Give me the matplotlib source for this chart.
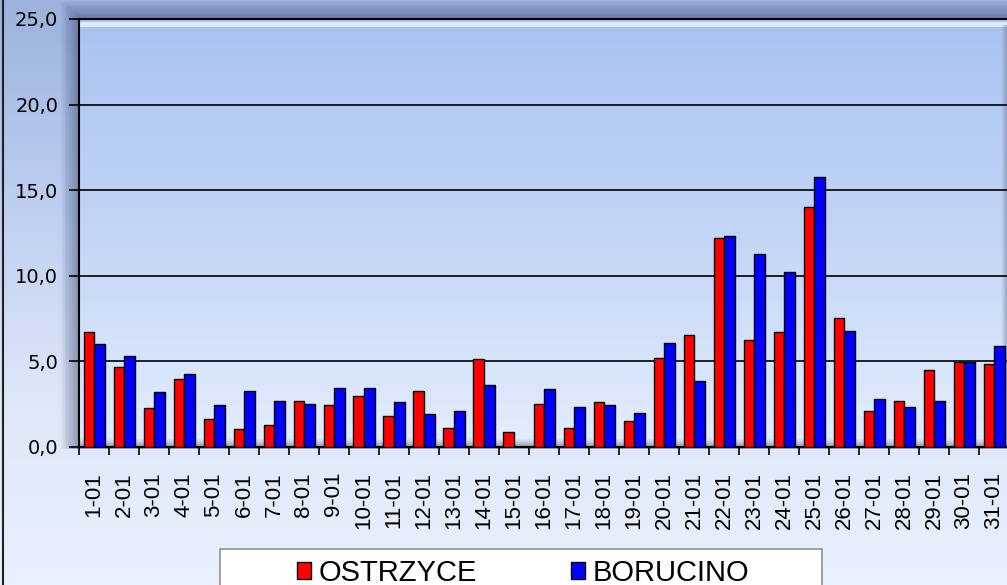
import numpy as np
import matplotlib
matplotlib.use("Agg")
import matplotlib.pyplot as plt
from matplotlib.patches import Rectangle
from matplotlib.colors import LinearSegmentedColormap
from matplotlib.ticker import FuncFormatter, FixedLocator

# daily values, January
days = [f"{d}-01" for d in range(1, 32)]
ostrzyce = [6.7, 4.7, 2.3, 4.0, 1.65, 1.05, 1.3, 2.7, 2.45, 2.95, 1.8, 3.3, 1.1, 5.15, 0.85, 2.5,
            1.1, 2.6, 1.5, 5.2, 6.55, 12.2, 6.25, 6.7, 14.0, 7.55, 2.1, 2.7, 4.5, 4.95, 4.85]
borucino = [6.0, 5.3, 3.2, 4.25, 2.45, 3.3, 2.7, 2.5, 3.45, 3.45, 2.6, 1.9, 2.1, 3.65, 0.0, 3.4,
            2.35, 2.45, 2.0, 6.1, 3.85, 12.3, 11.25, 10.2, 15.8, 6.8, 2.8, 2.35, 2.7, 4.95, 5.9]
series_names = ["OSTRZYCE", "BORUCINO"]
series_colors = ["#ff0000", "#0000ff"]
y_ticks = [0, 5, 10, 15, 20, 25]

plt.rcParams["font.family"] = ["Liberation Sans", "DejaVu Sans"]
plt.rcParams["font.size"] = 15

W, H = 1007, 585
fig = plt.figure(figsize=(W / 100, H / 100), dpi=100)

# figure background gradient
bg = fig.add_axes([0, 0, 1, 1], zorder=-10)
bg_cmap = LinearSegmentedColormap.from_list("bg", ["#9cb2dc", "#bccdf0", "#dbe6f8", "#eaf1fd"])
bg.imshow(np.linspace(0, 1, 256).reshape(-1, 1), cmap=bg_cmap, aspect="auto",
          extent=[0, 1, 0, 1], origin="upper")
bg.set_xlim(0, 1)
bg.set_ylim(0, 1)
bg.axis("off")
# outer border at left edge
bg.plot([2.5 / W, 2.5 / W], [0, 1], color="#202020", lw=1.5)

# plot area position (in pixels)
x0, x1 = 79, 1009
y_top, y_bot = 19, 447
ax_rect = [x0 / W, 1 - y_bot / H, (x1 - x0) / W, (y_bot - y_top) / H]

# soft shadow around plot area
for i in range(10):
    pad = (10 - i) * 1.8
    bg.add_patch(Rectangle(((x0 - pad) / W, (H - y_bot - 2) / H), (x1 - x0 + pad) / W,
                           (y_bot - y_top + pad + 2) / H, facecolor="#2a3a60",
                           edgecolor="none", alpha=0.05, zorder=1))

ax = fig.add_axes(ax_rect)
ax.patch.set_alpha(0)
area_cmap = LinearSegmentedColormap.from_list("area", ["#a8c3f1", "#c3d5f6", "#e3eefc"])
ax.imshow(np.linspace(0, 1, 256).reshape(-1, 1), cmap=area_cmap, aspect="auto",
          extent=[-0.5, len(days) - 0.5, 0, 25], origin="upper", zorder=0)
# light bevel under the top edge
ax.axhspan(24.55, 24.85, color="#d8ecff", zorder=0.5, lw=0)
# grey floor shading near the baseline
floor_cmap = LinearSegmentedColormap.from_list(
    "floor", [(0.45, 0.47, 0.52, 0.75), (0.6, 0.62, 0.68, 0.0)])
ax.imshow(np.linspace(0, 1, 64).reshape(-1, 1), cmap=floor_cmap, aspect="auto",
          extent=[-0.5, len(days) - 0.5, 0, 0.5], origin="lower", zorder=0.6)
# dark bevel at the right edge
right_cmap = LinearSegmentedColormap.from_list(
    "right", [(0.5, 0.55, 0.65, 0.0), (0.35, 0.4, 0.5, 0.8)])
ax.imshow(np.linspace(0, 1, 64).reshape(1, -1), cmap=right_cmap, aspect="auto",
          extent=[len(days) - 0.78, len(days) - 0.5, 0, 24.6], zorder=0.6)

x = np.arange(len(days))
bw = 0.35
ax.bar(x - bw / 2, ostrzyce, bw, color=series_colors[0], edgecolor="black", lw=1,
       label=series_names[0], zorder=3)
ax.bar(x + bw / 2, borucino, bw, color=series_colors[1], edgecolor="black", lw=1,
       label=series_names[1], zorder=3)

ax.set_xlim(-0.5, len(days) - 0.5)
ax.set_ylim(0, 25)
ax.set_yticks(y_ticks)
ax.yaxis.set_major_formatter(FuncFormatter(lambda v, p: f"{v:.1f}".replace(".", ",")))
ax.yaxis.grid(True, color="black", lw=1.2)
for gl in ax.get_ygridlines():
    gl.set_zorder(1)

ax.set_xticks(x)
ax.set_xticklabels(days, rotation=90)
ax.xaxis.set_minor_locator(FixedLocator(np.arange(-0.5, len(days), 1.0)))
ax.tick_params(axis="x", which="major", length=0, pad=18, labelsize=16)
ax.tick_params(axis="x", which="minor", length=6, width=1.2, direction="out", color="black")
ax.tick_params(axis="y", length=7, width=1.2, pad=8, labelsize=14)
for lab in ax.get_yticklabels():
    lab.set_family("DejaVu Sans")

for s in ["left", "bottom", "top"]:
    ax.spines[s].set_color("black")
    ax.spines[s].set_linewidth(1.5)
ax.spines["right"].set_visible(False)

# legend box
bg.add_patch(Rectangle((220 / W, 1 - 600 / H), 602 / W, 51 / H, facecolor="white",
                       edgecolor="#909090", lw=1.2, zorder=2))
fig.legend(loc="center", bbox_to_anchor=(523 / W, 1 - 573 / H), ncol=2, frameon=False,
           prop={"size": 21},
           handlelength=0.5, handleheight=0.5, handletextpad=0.25, columnspacing=3.2,
           borderaxespad=0)

fig.savefig("out.png", dpi=100)
